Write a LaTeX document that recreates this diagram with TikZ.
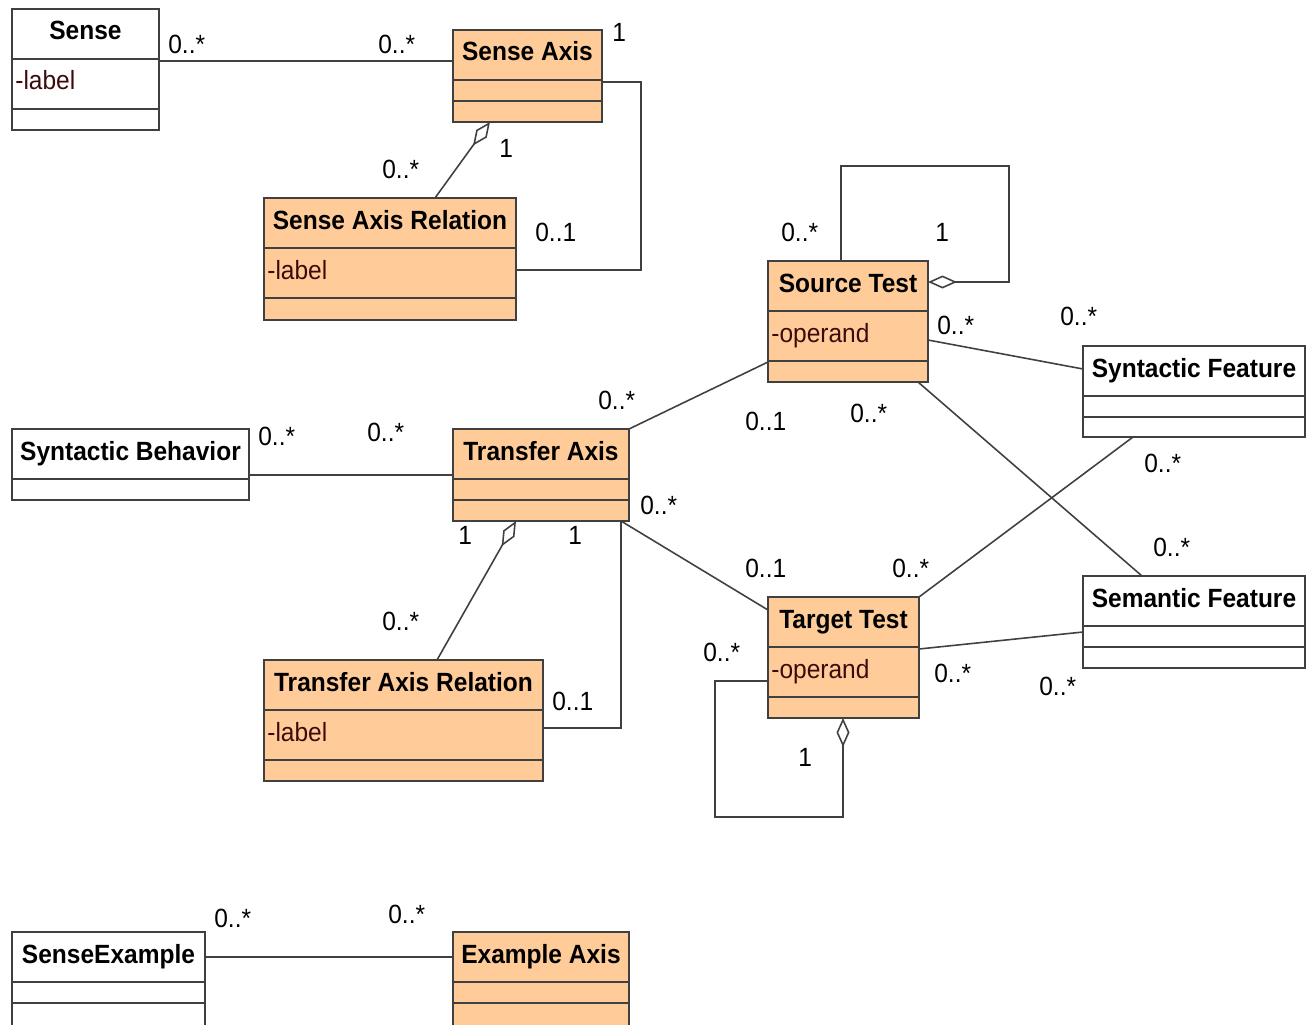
\documentclass[tikz,border=0pt]{standalone}
\usepackage{fontspec}
\setmainfont{Liberation Sans}[FakeStretch=0.93]
\usetikzlibrary{arrows.meta}

\definecolor{peach}{HTML}{FFCC99}
\definecolor{umlline}{HTML}{404040}
\definecolor{attrred}{HTML}{3C0A0A}

\newcommand{\umlclass}[9][]{%
  \node[classbox, #1, minimum width={(#5-#3)*0.02cm}, minimum height={(#6-#4)*0.02cm}]
    (#2) at ({(#3+#5)/2},{(#4+#6)/2}) {};
  \node[classtitle] (#2-title) at ({(#3+#5)/2},{#4+31}) {#7};
  \node[classattr] (#2-attr) at ({#3+3},{#4+81}) {#8};
  \foreach \sep in {#9}
    \draw[classline] (#3,{#4+\sep}) -- (#5,{#4+\sep});
}

\begin{document}
\begin{tikzpicture}[x=0.02cm, y=-0.02cm,
    classbox/.style={rectangle, draw=umlline, line width=1.1pt, fill=white, inner sep=0pt, outer sep=0pt},
    classline/.style={draw=umlline, line width=1.1pt},
    classtitle/.style={anchor=base, inner sep=0pt, font=\fontsize{15}{17}\selectfont\bfseries},
    classattr/.style={anchor=base west, inner sep=0pt, text=attrred, font=\fontsize{15}{17}\selectfont},
    assoc/.style={draw=umlline, line width=0.9pt},
    aggr/.style={assoc, -{Diamond[open, length=0.58cm, width=0.26cm, line width=0.9pt]}},
    mult/.style={anchor=base west, inner sep=0pt, font=\fontsize{15}{17}\selectfont}
    ]
    \useasboundingbox (0,0) rectangle (1307,1024);
    \clip (0,0) rectangle (1307,1024);

    \umlclass{sense}{12}{9}{159}{130}{Sense}{-label}{50,100}
    \umlclass[fill=peach]{senseaxis}{453}{30}{602}{122}{Sense Axis}{}{50,71}
    \umlclass[fill=peach]{sar}{264}{198}{516}{320}{Sense Axis Relation}{-label}{50,100}
    \umlclass[fill=peach]{srctest}{768}{261}{928}{382}{Source Test}{-operand}{50,100}
    \umlclass{synfeat}{1083}{346}{1305}{437}{Syntactic Feature}{}{50,71}
    \umlclass{synbeh}{12}{429}{249}{500}{Syntactic Behavior}{}{50}
    \umlclass[fill=peach]{transaxis}{453}{429}{629}{521}{Transfer Axis}{}{50,71}
    \umlclass[fill=peach]{tar}{264}{660}{543}{781}{Transfer Axis Relation}{-label}{50,100}
    \umlclass[fill=peach]{tgttest}{768}{597}{919}{718}{Target Test}{-operand}{50,100}
    \umlclass{semfeat}{1083}{576}{1305}{668}{Semantic Feature}{}{50,71}
    \umlclass{senseex}{12}{932}{205}{1030}{SenseExample}{}{50,71}
    \umlclass[fill=peach]{exaxis}{453}{932}{629}{1030}{Example Axis}{}{50,71}

    \draw[assoc] (sense.east |- 0,61) -- (senseaxis.west |- 0,61);
    \draw[assoc] (senseaxis.east |- 0,82) -- ++(39,0) |- (sar.east |- 0,270);
    \draw[aggr] (sar.north -| 435,0) -- (senseaxis.south -| 490,0);
    \draw[aggr] (srctest.north -| 841,0) |- (1009,166) |- (srctest.east |- 0,282);
    \draw[assoc] (srctest.east |- 0,340) -- (synfeat.west |- 0,369);
    \draw[assoc] (srctest.south -| 918,0) -- (semfeat.north -| 1142,0);
    \draw[assoc] (transaxis.north east) -- (srctest.west |- 0,362);
    \draw[assoc] (synbeh.east |- 0,475) -- (transaxis.west |- 0,475);
    \draw[assoc] (transaxis.south -| 621,0) -- (tgttest.west |- 0,610);
    \draw[aggr] (tar.north -| 437,0) -- (transaxis.south -| 516,0);
    \draw[assoc] (transaxis.south -| 621,0) |- (tar.east |- 0,728);
    \draw[assoc] (tgttest.north east) -- (synfeat.south -| 1133,0);
    \draw[assoc] (tgttest.east |- 0,649) -- (semfeat.west |- 0,632);
    \draw[aggr] (tgttest.west |- 0,681) -| (715,817) -| (tgttest.south -| 843,0);
    \draw[assoc] (senseex.east |- 0,957) -- (exaxis.west |- 0,957);

    \node[mult] (m1) at (168,54) {0..*};
    \node[mult] (m2) at (378,54) {0..*};
    \node[mult] (m3) at (612,42) {1};
    \node[mult] (m4) at (499,157) {1};
    \node[mult] (m5) at (382,178) {0..*};
    \node[mult] (m6) at (535,241) {0..1};
    \node[mult] (m7) at (781,241) {0..*};
    \node[mult] (m8) at (935,241) {1};
    \node[mult] (m9) at (937,334) {0..*};
    \node[mult] (m10) at (1060,325) {0..*};
    \node[mult] (m11) at (598,409) {0..*};
    \node[mult] (m12) at (745,430) {0..1};
    \node[mult] (m13) at (850,422) {0..*};
    \node[mult] (m14) at (258,445) {0..*};
    \node[mult] (m15) at (367,441) {0..*};
    \node[mult] (m16) at (640,514) {0..*};
    \node[mult] (m17) at (458,544) {1};
    \node[mult] (m18) at (568,544) {1};
    \node[mult] (m19) at (382,630) {0..*};
    \node[mult] (m20) at (745,577) {0..1};
    \node[mult] (m21) at (892,577) {0..*};
    \node[mult] (m22) at (1144,472) {0..*};
    \node[mult] (m23) at (1153,556) {0..*};
    \node[mult] (m24) at (703,661) {0..*};
    \node[mult] (m25) at (552,710) {0..1};
    \node[mult] (m26) at (934,682) {0..*};
    \node[mult] (m27) at (1039,695) {0..*};
    \node[mult] (m28) at (798,766) {1};
    \node[mult] (m29) at (214,927) {0..*};
    \node[mult] (m30) at (388,923) {0..*};
\end{tikzpicture}
\end{document}
